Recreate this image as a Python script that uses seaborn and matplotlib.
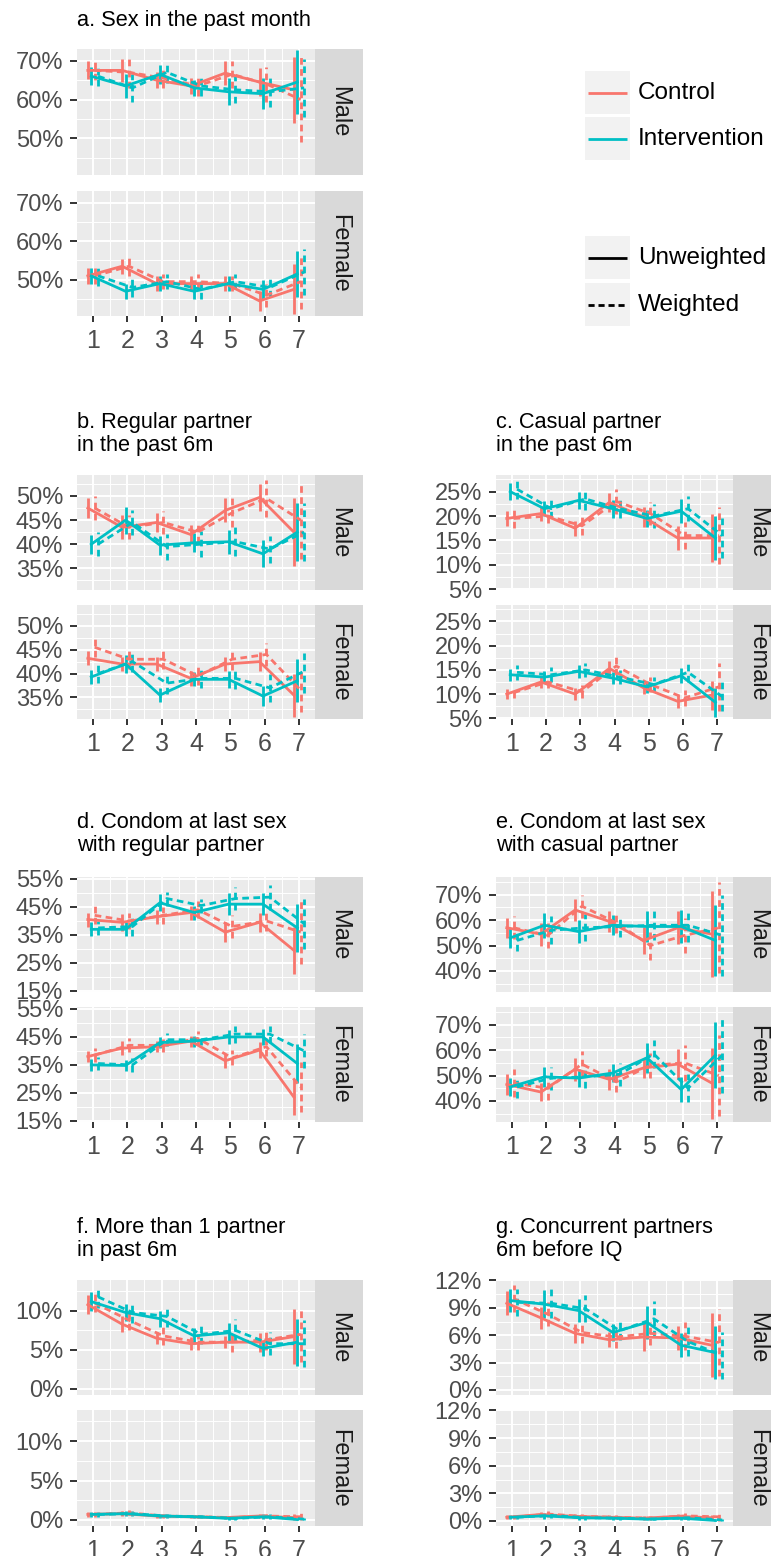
"""
Sexual behaviour indicators by survey wave, Control vs Intervention,
unweighted (solid) vs weighted (dashed) estimates with 95% CI.
"""

import numpy as np
import pandas as pd
import matplotlib
matplotlib.use("Agg")
import matplotlib.pyplot as plt
import seaborn as sns
from matplotlib.patches import Rectangle
from matplotlib.ticker import FixedLocator, PercentFormatter

# ── Data (%) ────────────────────────────────────────────────────────────────
WAVES = [1, 2, 3, 4, 5, 6, 7]
SERIES = [("Control", "Unweighted"), ("Intervention", "Unweighted"),
          ("Control", "Weighted"), ("Intervention", "Weighted")]
# rows follow SERIES; *_est = estimate, *_ci = half width of the 95% CI

# a. Sex in the past month
a_male_est = [[67.5, 67.5, 65.0, 63.5, 66.8, 64.5, 62.5],
              [66.0, 63.5, 66.5, 63.0, 62.0, 61.5, 64.5],
              [67.5, 67.0, 65.5, 63.5, 66.5, 64.0, 60.0],
              [66.0, 63.0, 67.0, 63.5, 62.5, 62.0, 63.0]]
a_male_ci = [[2.3, 3.0, 2.0, 2.0, 3.0, 3.5, 8.5],
             [2.3, 3.0, 2.5, 2.0, 3.5, 4.0, 8.2],
             [2.5, 4.0, 2.5, 2.5, 3.5, 4.5, 11.0],
             [2.5, 3.5, 2.8, 2.5, 3.5, 4.0, 7.5]]
a_female_est = [[51.0, 53.5, 49.0, 49.0, 49.0, 44.5, 47.5],
                [51.0, 47.0, 49.0, 47.0, 49.0, 47.5, 51.5],
                [51.0, 53.5, 49.5, 49.5, 49.0, 46.0, 49.5],
                [51.0, 48.0, 49.5, 47.5, 49.5, 48.0, 52.0]]
a_female_ci = [[2.0, 2.0, 2.0, 2.0, 2.0, 2.5, 6.5],
               [2.0, 2.0, 2.0, 2.0, 2.0, 2.5, 6.0],
               [2.0, 2.5, 2.0, 2.0, 2.0, 3.0, 7.0],
               [2.5, 2.5, 2.0, 2.5, 2.0, 2.5, 6.0]]

# b. Regular partner in the past 6m
b_male_est = [[47.5, 43.5, 44.5, 42.0, 47.0, 49.7, 42.5],
              [40.0, 45.0, 39.8, 40.3, 40.5, 38.0, 42.5],
              [47.5, 43.5, 44.5, 42.5, 46.5, 49.5, 45.0],
              [40.0, 44.5, 39.5, 40.0, 40.5, 39.0, 42.5]]
b_male_ci = [[2.0, 2.5, 2.0, 2.0, 2.5, 2.8, 7.0],
             [2.0, 2.8, 2.0, 2.0, 2.5, 2.8, 6.0],
             [2.5, 2.5, 2.3, 2.3, 3.0, 3.8, 8.0],
             [2.5, 2.5, 2.7, 2.7, 3.0, 2.8, 6.0]]
b_female_est = [[43.2, 42.0, 42.0, 39.0, 42.0, 42.5, 35.5],
                [39.3, 42.0, 35.5, 38.8, 38.8, 35.3, 38.5],
                [45.5, 43.0, 43.0, 39.5, 43.0, 44.0, 36.5],
                [40.0, 42.5, 38.0, 39.0, 39.0, 37.0, 40.5]]
b_female_ci = [[1.5, 1.5, 1.5, 1.5, 1.5, 2.0, 4.5],
               [1.5, 1.8, 1.5, 1.5, 1.8, 2.0, 4.5],
               [2.0, 2.0, 2.0, 1.8, 2.3, 2.5, 4.5],
               [2.0, 2.2, 2.2, 2.0, 2.3, 3.0, 4.5]]

# c. Casual partner in the past 6m
c_male_est = [[19.5, 20.5, 17.5, 22.8, 19.8, 15.5, 15.5],
              [25.0, 21.5, 23.2, 21.5, 19.5, 21.0, 15.5],
              [19.5, 20.0, 18.0, 23.0, 20.5, 16.0, 16.0],
              [25.5, 21.5, 23.5, 21.5, 20.0, 21.5, 16.0]]
c_male_ci = [[1.5, 1.5, 1.5, 2.0, 2.0, 2.5, 5.0],
             [1.8, 1.5, 1.8, 1.8, 1.8, 2.5, 4.5],
             [2.0, 1.5, 1.8, 2.5, 2.3, 2.8, 5.8],
             [2.0, 1.8, 2.3, 2.0, 2.5, 2.5, 4.5]]
c_female_est = [[10.0, 12.5, 10.0, 15.3, 11.3, 8.5, 9.8],
                [14.0, 13.5, 14.7, 13.3, 11.5, 13.8, 8.3],
                [10.3, 12.5, 10.5, 15.8, 12.0, 9.2, 11.5],
                [14.5, 14.0, 15.0, 13.5, 12.0, 14.5, 9.5]]
c_female_ci = [[1.0, 1.2, 1.2, 1.5, 1.3, 1.3, 3.0],
               [1.2, 1.2, 1.3, 1.3, 1.3, 1.5, 3.0],
               [1.2, 1.3, 1.3, 1.8, 1.5, 1.7, 5.0],
               [1.5, 1.5, 1.5, 1.5, 1.5, 2.0, 3.0]]

# d. Condom at last sex with regular partner
d_male_est = [[40.5, 39.5, 41.5, 43.0, 36.0, 39.5, 29.5],
              [37.0, 37.0, 46.5, 43.0, 46.0, 46.0, 37.5],
              [42.0, 40.0, 42.0, 44.0, 38.0, 40.0, 36.0],
              [37.5, 38.0, 48.0, 45.5, 48.0, 48.5, 39.0]]
d_male_ci = [[2.5, 3.0, 2.5, 2.5, 3.5, 3.5, 8.5],
             [2.5, 2.5, 3.0, 2.5, 4.0, 4.0, 8.5],
             [3.2, 3.0, 3.0, 3.0, 4.0, 3.5, 11.5],
             [2.5, 3.5, 2.5, 2.5, 4.0, 4.5, 9.0]]
d_female_est = [[38.0, 41.0, 41.5, 43.5, 36.5, 40.3, 23.5],
                [35.0, 34.8, 43.0, 43.5, 45.0, 45.0, 35.5],
                [38.5, 42.0, 42.0, 44.5, 37.5, 41.5, 27.0],
                [35.5, 35.0, 44.0, 44.0, 46.0, 46.0, 40.0]]
d_female_ci = [[2.0, 2.5, 2.0, 2.0, 2.5, 3.0, 6.5],
               [2.0, 2.0, 2.0, 2.0, 2.5, 3.0, 7.0],
               [2.5, 2.5, 2.3, 2.5, 2.7, 3.3, 9.0],
               [2.3, 2.5, 2.3, 2.0, 3.0, 3.0, 6.0]]

# e. Condom at last sex with casual partner
e_male_est = [[57.0, 54.5, 64.0, 59.5, 52.0, 57.0, 54.5],
              [53.0, 58.0, 55.5, 58.0, 57.5, 57.5, 52.0],
              [57.0, 54.0, 65.5, 59.0, 50.0, 54.0, 57.0],
              [52.0, 56.0, 57.0, 57.5, 58.0, 58.0, 54.0]]
e_male_ci = [[4.0, 4.5, 4.5, 4.0, 5.5, 6.5, 17.0],
             [4.0, 5.0, 4.5, 4.0, 6.0, 6.5, 14.0],
             [4.5, 5.0, 4.5, 4.2, 5.5, 7.0, 18.0],
             [4.2, 5.5, 5.3, 4.2, 6.0, 6.5, 16.0]]
e_female_est = [[46.5, 43.5, 52.5, 48.5, 53.0, 54.5, 47.0],
                [45.5, 49.5, 49.0, 51.0, 57.0, 44.5, 58.0],
                [47.0, 45.0, 54.5, 47.5, 54.0, 55.0, 50.0],
                [45.5, 49.0, 49.5, 50.5, 58.5, 45.0, 58.0]]
e_female_ci = [[4.0, 3.5, 4.5, 4.0, 4.0, 6.0, 14.0],
               [3.5, 4.0, 3.5, 3.5, 6.0, 5.0, 13.0],
               [5.5, 4.5, 5.0, 4.0, 5.0, 7.0, 16.0],
               [4.5, 4.5, 4.3, 4.5, 5.5, 5.5, 15.0]]

# f. More than 1 partner in past 6m
f_male_est = [[10.8, 8.3, 6.5, 5.8, 6.0, 6.0, 6.7],
              [11.2, 9.8, 9.0, 6.8, 7.2, 5.2, 6.0],
              [11.0, 8.8, 6.8, 6.0, 6.0, 6.3, 7.0],
              [11.8, 9.8, 9.3, 7.0, 7.5, 5.8, 5.8]]
f_male_ci = [[1.2, 1.0, 0.8, 0.8, 0.8, 1.2, 3.5],
             [1.2, 1.1, 1.0, 1.0, 1.3, 1.0, 3.0],
             [1.2, 1.2, 1.2, 1.0, 1.2, 1.3, 3.5],
             [1.4, 1.4, 1.3, 1.2, 1.5, 1.5, 3.0]]
f_female_est = [[0.7, 0.8, 0.5, 0.4, 0.3, 0.5, 0.3],
                [0.7, 0.8, 0.5, 0.4, 0.2, 0.4, 0.05],
                [0.7, 0.9, 0.5, 0.4, 0.3, 0.5, 0.4],
                [0.7, 0.8, 0.5, 0.4, 0.2, 0.4, 0.1]]
f_female_ci = [[0.3, 0.3, 0.2, 0.2, 0.2, 0.3, 0.4],
               [0.3, 0.3, 0.2, 0.2, 0.2, 0.3, 0.1],
               [0.3, 0.3, 0.2, 0.2, 0.2, 0.3, 0.6],
               [0.3, 0.3, 0.2, 0.2, 0.2, 0.3, 0.1]]

# g. Concurrent partners 6m before IQ
g_male_est = [[9.5, 7.9, 6.2, 5.5, 5.8, 5.7, 4.9],
              [9.8, 9.4, 8.7, 6.3, 7.4, 4.9, 4.1],
              [10.0, 8.3, 6.3, 5.8, 6.2, 5.9, 5.2],
              [9.6, 9.5, 8.9, 6.5, 7.8, 5.3, 3.8]]
g_male_ci = [[1.3, 1.2, 1.0, 0.8, 1.5, 1.3, 3.5],
             [1.3, 1.5, 1.3, 0.9, 1.8, 1.3, 2.9],
             [1.5, 1.3, 1.2, 1.2, 1.3, 1.5, 3.7],
             [1.5, 1.6, 1.5, 1.0, 2.0, 1.6, 2.6]]
g_female_est = [[0.4, 0.7, 0.5, 0.4, 0.3, 0.5, 0.35],
                [0.4, 0.55, 0.35, 0.3, 0.2, 0.3, 0.05],
                [0.4, 0.75, 0.5, 0.4, 0.3, 0.55, 0.45],
                [0.4, 0.6, 0.35, 0.3, 0.2, 0.35, 0.1]]
g_female_ci = [[0.2, 0.3, 0.2, 0.2, 0.2, 0.3, 0.3],
               [0.2, 0.3, 0.2, 0.2, 0.15, 0.2, 0.1],
               [0.2, 0.3, 0.2, 0.2, 0.2, 0.3, 0.6],
               [0.2, 0.3, 0.2, 0.2, 0.15, 0.2, 0.1]]

TITLES = {
    "a": ["a. Sex in the past month"],
    "b": ["b. Regular partner", "in the past 6m"],
    "c": ["c. Casual partner", "in the past 6m"],
    "d": ["d. Condom at last sex", "with regular partner"],
    "e": ["e. Condom at last sex", "with casual partner"],
    "f": ["f. More than 1 partner", "in past 6m"],
    "g": ["g. Concurrent partners", "6m before IQ"],
}
YTICKS = {
    "a": [50, 60, 70], "b": [35, 40, 45, 50], "c": [5, 10, 15, 20, 25],
    "d": [15, 25, 35, 45, 55], "e": [40, 50, 60, 70], "f": [0, 5, 10],
    "g": [0, 3, 6, 9, 12],
}
PANELS = [
    ("a", a_male_est, a_male_ci, a_female_est, a_female_ci),
    ("b", b_male_est, b_male_ci, b_female_est, b_female_ci),
    ("c", c_male_est, c_male_ci, c_female_est, c_female_ci),
    ("d", d_male_est, d_male_ci, d_female_est, d_female_ci),
    ("e", e_male_est, e_male_ci, e_female_est, e_female_ci),
    ("f", f_male_est, f_male_ci, f_female_est, f_female_ci),
    ("g", g_male_est, g_male_ci, g_female_est, g_female_ci),
]

# ── Layout (pixels, origin top-left) ────────────────────────────────────────
W, H = 771, 1556
LEFT, RIGHT = (77, 315), (496, 733)
LAYOUT = {
    "a": dict(x=LEFT,  rows=[(49, 175), (191, 316)],     title_y=26,   ylim=(40.6, 73.0)),
    "b": dict(x=LEFT,  rows=[(475, 590), (605, 719)],    title_y=428,  ylim=(30.5, 54.35)),
    "c": dict(x=RIGHT, rows=[(475, 590), (605, 719)],    title_y=428,  ylim=(4.86, 28.4)),
    "d": dict(x=LEFT,  rows=[(877, 992), (1007, 1122)],  title_y=828,  ylim=(14.6, 55.7)),
    "e": dict(x=RIGHT, rows=[(877, 992), (1007, 1122)],  title_y=828,  ylim=(31.7, 77.0)),
    "f": dict(x=LEFT,  rows=[(1280, 1395), (1410, 1526)], title_y=1233, ylim=(-0.77, 13.96)),
    "g": dict(x=RIGHT, rows=[(1280, 1395), (1410, 1526)], title_y=1233, ylim=(-0.55, 12.05)),
}
STRIP_W = 48
XLIM = (0.535, 7.465)

PALETTE = {"Control": "#F8766D", "Intervention": "#00BFC4"}
DASH = (2.4, 1.6)
DASHES = {"Unweighted": "", "Weighted": DASH}
DODGE = dict(zip(SERIES, [-0.15, -0.05, 0.05, 0.15]))
LW = 2.0

plt.rcParams["font.family"] = ["Liberation Sans", "DejaVu Sans"]

fig = plt.figure(figsize=(W / 100, H / 100), dpi=100)
fig.patch.set_facecolor("white")


def px_axes(x0, y0, x1, y1, **kw):
    return fig.add_axes([x0 / W, 1 - y1 / H, (x1 - x0) / W, (y1 - y0) / H], **kw)


def make_frame(est, ci):
    rows = []
    for (grp, wt), e_row, c_row in zip(SERIES, est, ci):
        for wave, v, h in zip(WAVES, e_row, c_row):
            rows.append(dict(group=grp, weight=wt, wave=wave, est=v,
                             lo=max(v - h, 0.0), hi=v + h,
                             xd=wave + DODGE[(grp, wt)]))
    return pd.DataFrame(rows)


def draw_facet(ax, d, key, bottom):
    ax.set_facecolor("#EBEBEB")
    for s in ax.spines.values():
        s.set_visible(False)
    ax.set_axisbelow(True)

    # error bars first, then the lines
    for (grp, wt), sub in d.groupby(["group", "weight"]):
        ls = "solid" if wt == "Unweighted" else (0, DASH)
        ax.vlines(sub["xd"], sub["lo"], sub["hi"], colors=PALETTE[grp],
                  linestyles=ls, linewidth=LW, zorder=2)
    sns.lineplot(data=d, x="xd", y="est", hue="group", style="weight",
                 palette=PALETTE, dashes=DASHES, linewidth=LW,
                 estimator=None, errorbar=None, legend=False, ax=ax, zorder=3)

    ticks = YTICKS[key]
    step = ticks[1] - ticks[0]
    minor = [t - step / 2 for t in ticks] + [ticks[-1] + step / 2]
    ax.set_xlim(*XLIM)
    ax.set_ylim(*LAYOUT[key]["ylim"])
    ax.xaxis.set_major_locator(FixedLocator(WAVES))
    ax.xaxis.set_minor_locator(FixedLocator([w + 0.5 for w in WAVES[:-1]]))
    ax.yaxis.set_major_locator(FixedLocator(ticks))
    ax.yaxis.set_minor_locator(FixedLocator(minor))
    ax.yaxis.set_major_formatter(PercentFormatter(xmax=100, decimals=0))
    ax.grid(which="major", color="white", linewidth=1.4)
    ax.grid(which="minor", color="white", linewidth=0.7)
    ax.tick_params(which="minor", length=0)
    ax.tick_params(axis="y", which="major", length=5, width=1.4, color="#333333",
                   labelsize=17, labelcolor="#4D4D4D", pad=5)
    if bottom:
        ax.tick_params(axis="x", which="major", length=4.5, width=1.4, color="#333333",
                       labelsize=18, labelcolor="#4D4D4D", pad=5)
    else:
        ax.tick_params(axis="x", which="major", length=0, labelbottom=False)
    ax.set_xlabel("")
    ax.set_ylabel("")


def draw_strip(x0, y0, y1, label):
    st = px_axes(x0, y0, x0 + STRIP_W, y1)
    st.set_facecolor("#D9D9D9")
    st.set_xticks([])
    st.set_yticks([])
    for s in st.spines.values():
        s.set_visible(False)
    st.text(0.5, 0.5, label, rotation=270, ha="center", va="center",
            fontsize=17, color="#1A1A1A", transform=st.transAxes)


# ── Panels ──────────────────────────────────────────────────────────────────
for key, m_est, m_ci, f_est, f_ci in PANELS:
    lay = LAYOUT[key]
    x0, x1 = lay["x"]
    for r, (sex, est, ci) in enumerate([("Male", m_est, m_ci), ("Female", f_est, f_ci)]):
        y0, y1 = lay["rows"][r]
        ax = px_axes(x0, y0, x1, y1)
        draw_facet(ax, make_frame(est, ci), key, bottom=(r == 1))
        draw_strip(x1, y0, y1, sex)

# ── Titles and legend on a transparent overlay in pixel units ───────────────
ov = fig.add_axes([0, 0, 1, 1], facecolor="none")
ov.set_xlim(0, W)
ov.set_ylim(H, 0)
ov.axis("off")

for key, lines in TITLES.items():
    x0 = LAYOUT[key]["x"][0]
    for i, line in enumerate(lines):
        ov.text(x0, LAYOUT[key]["title_y"] + i * 23, line, fontsize=15.7,
                ha="left", va="baseline", color="black")

legend_rows = [
    ("Control", PALETTE["Control"], "solid", 71),
    ("Intervention", PALETTE["Intervention"], "solid", 117),
    ("Unweighted", "black", "solid", 236),
    ("Weighted", "black", (0, (2.2, 1.4)), 283),
]
for label, color, ls, top in legend_rows:
    ov.add_patch(Rectangle((585, top), 45, 43, facecolor="#F2F2F2", edgecolor="none"))
    cy = top + 21.5
    ov.plot([588, 627], [cy, cy], color=color, linestyle=ls, linewidth=2.0,
            solid_capstyle="butt")
    ov.text(638, cy, label, fontsize=17.5, ha="left", va="center", color="black")

fig.savefig("out.png", dpi=100)
